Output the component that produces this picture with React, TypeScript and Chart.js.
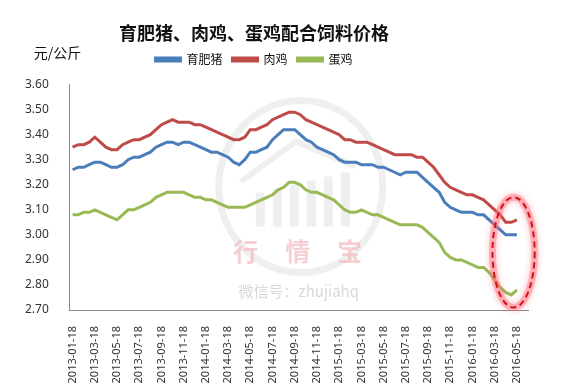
import React, { useEffect, useRef } from "react";
import { Chart, registerables } from "chart.js";

Chart.register(...registerables);

// month offsets from 2013-01-18 (half-month steps)
const months: number[] = [
  0, 0.5, 1, 1.5, 2, 2.5, 3, 3.5, 4, 4.5, 5, 5.5, 6, 6.5, 7, 7.5, 8, 8.5, 9, 9.5,
  10, 10.5, 11, 11.5, 12, 12.5, 13, 13.5, 14, 14.5, 15, 15.5, 16, 16.5, 17, 17.5, 18, 18.5, 19, 19.5,
  20, 20.5, 21, 21.5, 22, 22.5, 23, 23.5, 24, 24.5, 25, 25.5, 26, 26.5, 27, 27.5, 28, 28.5, 29, 29.5,
  30, 30.5, 31, 31.5, 32, 32.5, 33, 33.5, 34, 34.5, 35, 35.5, 36, 36.5, 37, 37.5, 38, 38.5, 39, 39.5, 40,
];

const pig: number[] = [
  3.26, 3.27, 3.27, 3.28, 3.29, 3.29, 3.28, 3.27, 3.27, 3.28, 3.30, 3.31, 3.31, 3.32, 3.33, 3.35, 3.36, 3.37, 3.37, 3.36,
  3.37, 3.37, 3.36, 3.35, 3.34, 3.33, 3.33, 3.32, 3.31, 3.29, 3.28, 3.30, 3.33, 3.33, 3.34, 3.35, 3.38, 3.40, 3.42, 3.42,
  3.42, 3.40, 3.38, 3.37, 3.35, 3.34, 3.33, 3.32, 3.30, 3.29, 3.29, 3.29, 3.28, 3.28, 3.28, 3.27, 3.27, 3.26, 3.25, 3.24,
  3.25, 3.25, 3.25, 3.23, 3.21, 3.19, 3.17, 3.13, 3.11, 3.10, 3.09, 3.09, 3.09, 3.08, 3.08, 3.06, 3.04, 3.02, 3.00, 3.00, 3.00,
];

const broiler: number[] = [
  3.35, 3.36, 3.36, 3.37, 3.39, 3.37, 3.35, 3.34, 3.34, 3.36, 3.37, 3.38, 3.38, 3.39, 3.40, 3.42, 3.44, 3.45, 3.46, 3.45,
  3.45, 3.45, 3.44, 3.44, 3.43, 3.42, 3.41, 3.40, 3.39, 3.38, 3.38, 3.39, 3.42, 3.42, 3.43, 3.44, 3.46, 3.47, 3.48, 3.49,
  3.49, 3.48, 3.46, 3.45, 3.44, 3.43, 3.42, 3.41, 3.40, 3.38, 3.38, 3.37, 3.37, 3.37, 3.36, 3.35, 3.34, 3.33, 3.32, 3.32,
  3.32, 3.32, 3.31, 3.31, 3.29, 3.27, 3.24, 3.21, 3.19, 3.18, 3.17, 3.16, 3.16, 3.15, 3.14, 3.12, 3.10, 3.08, 3.05, 3.05, 3.06,
];

const layer: number[] = [
  3.08, 3.08, 3.09, 3.09, 3.10, 3.09, 3.08, 3.07, 3.06, 3.08, 3.10, 3.10, 3.11, 3.12, 3.13, 3.15, 3.16, 3.17, 3.17, 3.17,
  3.17, 3.16, 3.15, 3.15, 3.14, 3.14, 3.13, 3.12, 3.11, 3.11, 3.11, 3.11, 3.12, 3.13, 3.14, 3.15, 3.16, 3.18, 3.19, 3.21,
  3.21, 3.20, 3.18, 3.17, 3.17, 3.16, 3.15, 3.14, 3.12, 3.10, 3.09, 3.09, 3.10, 3.09, 3.08, 3.08, 3.07, 3.06, 3.05, 3.04,
  3.04, 3.04, 3.04, 3.03, 3.01, 2.99, 2.97, 2.93, 2.91, 2.90, 2.90, 2.89, 2.88, 2.87, 2.87, 2.85, 2.82, 2.79, 2.77, 2.76, 2.78,
];

const xTickLabels: string[] = [
  "2013-01-18", "2013-03-18", "2013-05-18", "2013-07-18", "2013-09-18", "2013-11-18",
  "2014-01-18", "2014-03-18", "2014-05-18", "2014-07-18", "2014-09-18", "2014-11-18",
  "2015-01-18", "2015-03-18", "2015-05-18", "2015-07-18", "2015-09-18", "2015-11-18",
  "2016-01-18", "2016-03-18", "2016-05-18",
];
const xTickMonths: number[] = xTickLabels.map((_, i) => i * 2);
const yTicks: number[] = [2.7, 2.8, 2.9, 3.0, 3.1, 3.2, 3.3, 3.4, 3.5, 3.6];

const seriesNames = ["育肥猪", "肉鸡", "蛋鸡"];
const seriesColors = ["#4a7ebb", "#be4b48", "#98b954"];

const TICK_FONT = "'Noto Sans', 'DejaVu Sans', sans-serif";
const CJK_FONT = "'Noto Sans CJK SC', sans-serif";
const HEADER_SHIFT = -16;

const decorPlugin = {
  id: "decor",
  beforeInit(chart: any) {
    const legend = chart.legend;
    if (legend) {
      const origFit = legend.fit;
      legend.fit = function () {
        origFit.call(this);
        this.height += 9;
      };
    }
  },
  afterLayout(chart: any) {
    const t = chart.titleBlock;
    if (t) {
      t.left += HEADER_SHIFT;
      t.right += HEADER_SHIFT;
    }
    const l = chart.legend;
    if (l) {
      l.left += HEADER_SHIFT;
      l.right += HEADER_SHIFT;
    }
  },
  beforeDatasetsDraw(chart: any) {
    const { ctx, chartArea } = chart;
    const { left, top } = chartArea;
    ctx.save();
    // watermark ring
    const cx = left + 231;
    const cy = top + 102;
    ctx.strokeStyle = "rgba(228,228,228,0.6)";
    ctx.lineWidth = 7;
    ctx.beginPath();
    ctx.ellipse(cx, cy, 82, 86, 0, 0, Math.PI * 2);
    ctx.stroke();
    // bars
    ctx.fillStyle = "rgba(228,228,228,0.6)";
    const barW = 9;
    for (let i = 0; i < 6; i++) {
      const bx = cx - 45 + i * 17;
      const bh = 34 + i * 4;
      ctx.fillRect(bx, cy + 40 - bh, barW, bh);
    }
    // roof
    ctx.lineWidth = 6;
    ctx.beginPath();
    ctx.moveTo(cx - 60, cy - 5);
    ctx.lineTo(cx - 5, cy - 45);
    ctx.lineTo(cx + 55, cy - 20);
    ctx.stroke();
    // texts
    ctx.fillStyle = "rgba(240,175,180,0.6)";
    ctx.font = `bold 25px ${CJK_FONT}`;
    ctx.textAlign = "center";
    ctx.textBaseline = "middle";
    const chars = ["行", "情", "宝"];
    chars.forEach((c, i) => ctx.fillText(c, left + 176 + i * 52, top + 167));
    ctx.fillStyle = "rgba(200,200,200,0.7)";
    ctx.font = `15px ${CJK_FONT}`;
    ctx.fillText("微信号：zhujiahq", left + 229, top + 207);
    ctx.restore();
  },
  afterDatasetsDraw(chart: any) {
    const { ctx, scales } = chart;
    const xs = scales.x;
    const ys = scales.y;
    const cx = xs.getPixelForValue(39.7);
    const cy = ys.getPixelForValue(2.93);
    const rx = Math.abs(xs.getPixelForValue(41.6) - cx);
    const ry = Math.abs(ys.getPixelForValue(3.15) - cy);
    ctx.save();
    ctx.beginPath();
    ctx.ellipse(cx, cy, rx, ry, 0, 0, Math.PI * 2);
    ctx.strokeStyle = "rgba(255,120,130,0.45)";
    ctx.lineWidth = 7;
    ctx.shadowColor = "rgba(255,90,100,0.8)";
    ctx.shadowBlur = 6;
    ctx.stroke();
    ctx.shadowBlur = 0;
    ctx.beginPath();
    ctx.ellipse(cx, cy, rx, ry, 0, 0, Math.PI * 2);
    ctx.setLineDash([6, 4]);
    ctx.lineWidth = 2;
    ctx.strokeStyle = "#d0101e";
    ctx.stroke();
    ctx.restore();
  },
  afterDraw(chart: any) {
    const { ctx, chartArea } = chart;
    ctx.save();
    ctx.fillStyle = "#111";
    ctx.font = `14px ${CJK_FONT}`;
    ctx.textAlign = "left";
    ctx.textBaseline = "middle";
    ctx.fillText("元/公斤", chartArea.left - 36, chartArea.top - 32);
    ctx.restore();
  },
};

export default function App() {
  const ref = useRef<HTMLCanvasElement>(null);
  useEffect(() => {
    if (!ref.current) return;
    const all = [pig, broiler, layer];
    const chart = new Chart(ref.current, {
      type: "line",
      data: {
        datasets: all.map((vals, i) => ({
          label: seriesNames[i],
          data: months.map((m, j) => ({ x: m, y: vals[j] })),
          borderColor: seriesColors[i],
          backgroundColor: seriesColors[i],
          borderWidth: 3,
          pointRadius: 0,
          tension: 0,
        })),
      },
      options: {
        animation: false,
        responsive: true,
        maintainAspectRatio: false,
        layout: { padding: { left: 12, right: 33, top: 0, bottom: 0 } },
        plugins: {
          title: {
            display: true,
            text: "育肥猪、肉鸡、蛋鸡配合饲料价格",
            color: "#111",
            font: { size: 18, weight: "bold", family: CJK_FONT },
            padding: { top: 22, bottom: 0 },
          },
          legend: {
            display: true,
            position: "top",
            labels: {
              boxWidth: 25,
              boxHeight: 3,
              color: "#111",
              font: { size: 12, family: CJK_FONT },
              padding: 10,
            },
          },
          tooltip: { enabled: false },
        },
        scales: {
          x: {
            type: "linear",
            min: -0.25,
            max: 41,
            grid: { display: false },
            border: { display: true, color: "#8c8c8c", width: 1 },
            afterBuildTicks: (scale: any) => {
              scale.ticks = xTickMonths.map((v) => ({ value: v }));
            },
            afterFit: (scale: any) => {
              scale.height = 76;
            },
            ticks: {
              autoSkip: false,
              minRotation: 90,
              maxRotation: 90,
              padding: 8,
              color: "#333",
              font: { size: 11, family: TICK_FONT },
              callback: (v: any) => {
                const idx = xTickMonths.indexOf(Number(v));
                return idx >= 0 ? xTickLabels[idx] : "";
              },
            },
          },
          y: {
            min: 2.7,
            max: 3.6,
            grid: { display: false },
            border: { display: true, color: "#8c8c8c", width: 1 },
            afterBuildTicks: (scale: any) => {
              scale.ticks = yTicks.map((v) => ({ value: v }));
            },
            ticks: {
              padding: 13,
              color: "#333",
              font: { size: 12, family: TICK_FONT },
              callback: (v: any) => Number(v).toFixed(2),
            },
          },
        },
      },
      plugins: [decorPlugin],
    });
    return () => chart.destroy();
  }, []);
  return (
    <div style={{ position: "absolute", left: 0, top: 0, width: 561, height: 386, background: "#fff" }}>
      <canvas ref={ref} />
    </div>
  );
}
